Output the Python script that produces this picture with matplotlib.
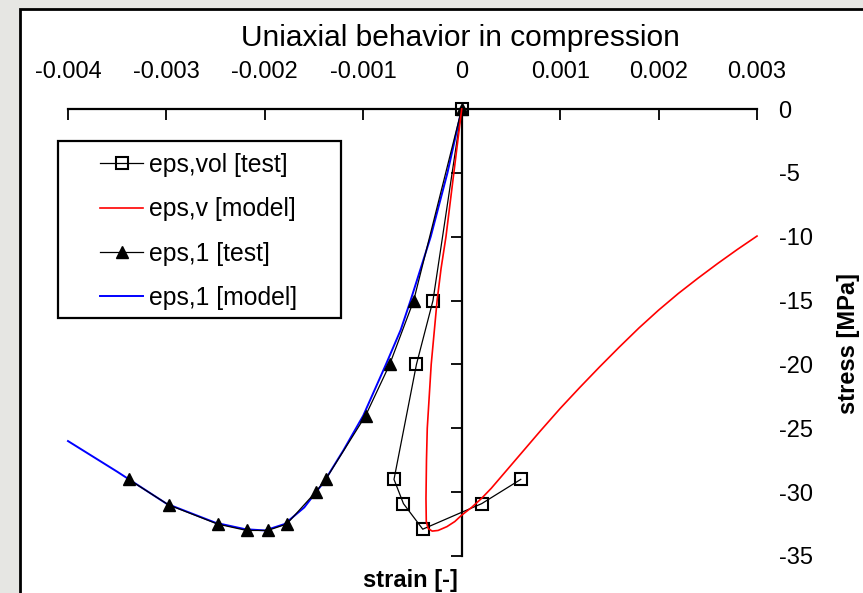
import matplotlib
matplotlib.use("Agg")
import matplotlib.pyplot as plt
from matplotlib.patches import Rectangle

plt.rcParams['font.family'] = ['Liberation Sans', 'DejaVu Sans']
plt.rcParams['axes.unicode_minus'] = False

# ---------------- data ----------------
title = "Uniaxial behavior in compression"
x_label = "strain [-]"
y_label = "stress [MPa]"

x_ticks = [-0.004, -0.003, -0.002, -0.001, 0.0, 0.001, 0.002, 0.003]
x_tick_labels = ["-0.004", "-0.003", "-0.002", "-0.001", "0", "0.001", "0.002", "0.003"]
y_ticks = [-35, -30, -25, -20, -15, -10, -5, 0]
y_tick_labels = ["-35", "-30", "-25", "-20", "-15", "-10", "-5", "0"]

series_names = ["eps,vol [test]", "eps,v [model]", "eps,1 [test]", "eps,1 [model]"]

vol_test_strain = [0.0, -0.000292, -0.00046, -0.000688, -0.000592, -0.000396, 0.000203, 0.0006]
vol_test_stress = [0.0, -15.0, -20.0, -29.0, -30.9, -32.9, -30.9, -29.0]

v_model_strain = [0.0, -0.00004, -0.00008, -0.00012, -0.00016, -0.00021, -0.00025, -0.00028,
                  -0.00031, -0.00033, -0.00035, -0.000358, -0.000363, -0.00036, -0.00034,
                  -0.0003, -0.00024, -0.00015, -0.00007, 0.0, 0.0001, 0.0002, 0.0003,
                  0.0004, 0.0005, 0.0006, 0.0008, 0.001, 0.0012, 0.0014, 0.0016, 0.0018,
                  0.002, 0.0022, 0.0024, 0.0026, 0.0028, 0.003]
v_model_stress = [0.0, -2.5, -5.0, -7.5, -10.0, -12.5, -15.0, -17.5,
                  -20.0, -22.5, -25.0, -27.5, -30.5, -32.3, -32.85,
                  -33.05, -33.0, -32.7, -32.3, -31.8, -31.2, -30.5, -29.7,
                  -28.8, -27.9, -27.0, -25.2, -23.45, -21.8, -20.2, -18.65, -17.15,
                  -15.75, -14.45, -13.25, -12.1, -11.0, -9.95]

e1_test_strain = [0.0, -0.000488, -0.000732, -0.000976, -0.001382, -0.001484, -0.001778,
                  -0.001971, -0.002185, -0.00248, -0.002978, -0.003384]
e1_test_stress = [0.0, -15.0, -20.0, -24.0, -29.0, -30.0, -32.5, -33.0, -33.0, -32.5, -31.0, -29.0]

e1_model_strain = [-0.004, -0.0035, -0.003, -0.0025, -0.0022, -0.002, -0.0018, -0.0016,
                   -0.0014, -0.0012, -0.001, -0.00077, -0.00062, -0.00052, -0.000315,
                   -0.000145, 0.0]
e1_model_stress = [-26.0, -28.4, -30.9, -32.4, -32.9, -33.0, -32.5, -31.2,
                   -29.2, -26.7, -24.0, -20.0, -17.3, -15.0, -10.0, -5.0, 0.0]

# ---------------- figure ----------------
W, H = 863, 593
fig = plt.figure(figsize=(W / 100, H / 100), dpi=100, facecolor='#e6e6e3')

def fx(px):
    return px / W

def fy(py):
    return 1 - py / H

# white chart area with black border
fig.patches.append(Rectangle((fx(20), fy(600)), fx(880) - fx(20), fy(9) - fy(600),
                             transform=fig.transFigure, facecolor='white',
                             edgecolor='black', linewidth=2, zorder=-5))

ax = fig.add_axes([fx(68), fy(556), fx(757) - fx(68), fy(109) - fy(556)])
ax.set_zorder(1)
ax.set_facecolor('none')
ax.set_xlim(-0.004, 0.003)
ax.set_ylim(-35, 0)

ax.plot(vol_test_strain, vol_test_stress, color='black', lw=0.9, marker='s', ms=8,
        mfc='none', mec='black', mew=1.5, clip_on=False, zorder=3, label=series_names[0])
ax.plot(v_model_strain, v_model_stress, color='#ff0000', lw=1.2, clip_on=False, zorder=4,
        label=series_names[1])
ax.plot(e1_test_strain, e1_test_stress, color='black', lw=0.9, marker='^', ms=9,
        mfc='black', mec='black', clip_on=False, zorder=3, label=series_names[2])
ax.plot(e1_model_strain, e1_model_stress, color='#0000ff', lw=1.4, clip_on=False, zorder=2,
        label=series_names[3])

# spines
for s in ['bottom', 'right']:
    ax.spines[s].set_visible(False)
ax.spines['top'].set_linewidth(1.6)
ax.spines['left'].set_linewidth(1.6)
ax.spines['left'].set_position(('data', 0))

ax.xaxis.tick_top()
ax.set_xticks(x_ticks)
ax.set_xticklabels(x_tick_labels)
ax.tick_params(axis='x', direction='in', length=8, width=1.3, pad=19, labelsize=17,
               top=True, bottom=False, labeltop=True, labelbottom=False)

ax.set_yticks(y_ticks)
ax.set_yticklabels(y_tick_labels)
ax.tick_params(axis='y', direction='out', length=8, width=1.3, pad=7.5, labelsize=17,
               left=True, right=False, labelleft=False, labelright=True)
for t in ax.get_yticklabels():
    t.set_horizontalalignment('left')

# titles
fig.text(fx(460), fy(46), title, ha='center', va='baseline', fontsize=21.5)
fig.text(fx(410), fy(581), x_label, ha='center', va='center', fontsize=17, fontweight='bold')
fig.text(fx(848), fy(344), y_label, ha='center', va='center', fontsize=17,
         fontweight='bold', rotation=90)

# legend
fig.patches.append(Rectangle((fx(58), fy(318)), fx(341) - fx(58), fy(141) - fy(318),
                             transform=fig.transFigure, facecolor='white',
                             edgecolor='black', linewidth=1.6, zorder=5))
leg = fig.legend(loc='upper left', bbox_to_anchor=(fx(100), fy(153)),
                 bbox_transform=fig.transFigure, frameon=False, fontsize=17.8,
                 borderpad=0, borderaxespad=0, handlelength=1.75, handletextpad=0.22,
                 labelspacing=0.82)
leg.set_zorder(6)

fig.savefig('out.png', dpi=100, facecolor=fig.get_facecolor())
